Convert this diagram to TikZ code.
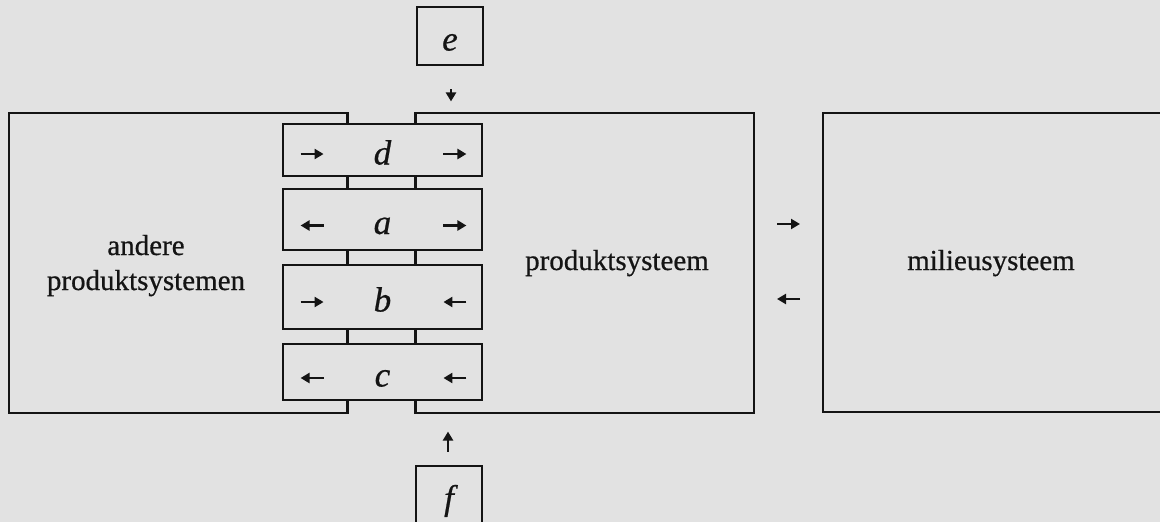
\documentclass[tikz,border=0pt]{standalone}
\usepackage{fontspec}
\setmainfont{Liberation Serif}
\newfontfamily\scanfont{Liberation Serif}[FakeBold=0.6]
\usetikzlibrary{arrows.meta,calc}
\definecolor{paper}{RGB}{226,226,226}
\definecolor{ink}{RGB}{20,20,20}
\begin{document}
\begin{tikzpicture}[x=1pt,y=-1pt,
  line/.style={draw=ink,line width=2.9pt},
  pbox/.style={draw=ink,line width=2.9pt,minimum width=199pt,inner sep=0pt,
    text height=29pt,text depth=0pt,font=\scanfont\fontsize{35}{40}\selectfont\itshape,text=ink},
  sbox/.style={pbox,minimum width=66pt,minimum height=58pt},
  lbl/.style={font=\scanfont\fontsize{29}{35}\selectfont,text=ink,anchor=base,inner sep=0pt},
  tip/.style={line width=2.5pt,draw=ink,-{Triangle[length=9pt,width=10pt]}}]
\fill[paper] (0,0) rectangle (1160,522);
\useasboundingbox (0,0) rectangle (1160,522);

% process boxes
\node[sbox] (e) at (450,36) {e};
\node[pbox,minimum height=52pt] (d) at (382.5,150) {d};
\node[pbox,minimum height=61pt] (a) at (382.5,219.5) {a};
\node[pbox,minimum height=64pt] (b) at (382.5,297) {b};
\node[pbox,minimum height=56pt] (c) at (382.5,372) {c};
\node[sbox] (f) at (449,495) {f};

% system outlines
\draw[line] ([xshift=66pt]d.north west) |- (9,113) -- (9,413) -| ([xshift=66pt]c.south west);
\draw[line] ([xshift=134pt]d.north west) |- (754,113) -- (754,413) -| ([xshift=134pt]c.south west);
\draw[line] (1170,113) -- (823,113) -- (823,412) -- (1170,412);

% links between stacked boxes
\foreach \u/\v in {d/a,a/b,b/c}{
  \draw[line] ([xshift=66pt]\u.south west) -- ([xshift=66pt]\v.north west);
  \draw[line] ([xshift=134pt]\u.south west) -- ([xshift=134pt]\v.north west);
}

% labels
\node[lbl] (andere) at (146,255) {andere};
\node[lbl] (ps1) at (146,290) {produktsystemen};
\node[lbl] (ps) at (617,270) {produktsysteem};
\node[lbl] (ms) at (991,270) {milieusysteem};

% arrows inside process boxes
\draw[tip] ($(d.west)+(19,4)$) -- ($(d.west)+(42,4)$);
\draw[tip] ($(d.east)+(-40,4)$) -- ($(d.east)+(-17,4)$);
\draw[tip] ($(a.west)+(42,6)$) -- ($(a.west)+(19,6)$);
\draw[tip] ($(a.east)+(-40,6)$) -- ($(a.east)+(-17,6)$);
\draw[tip] ($(b.west)+(19,5)$) -- ($(b.west)+(42,5)$);
\draw[tip] ($(b.east)+(-17,5)$) -- ($(b.east)+(-40,5)$);
\draw[tip] ($(c.west)+(42,6)$) -- ($(c.west)+(19,6)$);
\draw[tip] ($(c.east)+(-17,6)$) -- ($(c.east)+(-40,6)$);

% arrows between systems
\draw[tip] (777,224) -- (800,224);
\draw[tip] (800,299) -- (777,299);

% arrows from e and f
\draw[tip] ($(e.south)+(1,23)$) -- ($(e.south)+(1,35)$);
\draw[tip] ($(f.north)+(-1,-13)$) -- ($(f.north)+(-1,-33)$);
\end{tikzpicture}
\end{document}
